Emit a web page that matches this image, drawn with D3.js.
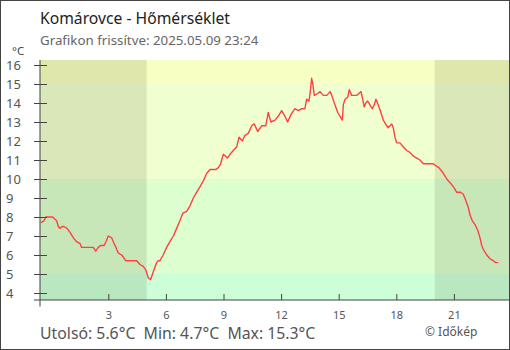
<!DOCTYPE html>
<html>
<head>
<meta charset="utf-8">
<script src="https://cdn.jsdelivr.net/npm/d3@7"></script>
<style>
  html, body { margin: 0; padding: 0; background: #fff; }
  svg { display: block; font-family: "Noto Sans", "Open Sans", sans-serif; }
</style>
</head>
<body>
<svg id="chart" width="510" height="350"></svg>
<script>
// Hourly position of each reading (hours from local midnight; negatives = previous evening)
const hours = [
  -0.51, -0.35, -0.25, 0.10, 0.31, 0.40, 0.48, 0.60, 0.69, 0.85,
  1.00, 1.18, 1.35, 1.53, 1.61, 1.88, 2.22, 2.34, 2.48, 2.60,
  2.78, 2.88, 3.00, 3.18, 3.26, 3.40, 3.52, 3.70, 3.91, 4.13,
  4.48, 4.65, 4.82, 4.96, 5.08, 5.20, 5.34, 5.52, 5.60, 5.69,
  5.86, 6.04, 6.21, 6.39, 6.56, 6.73, 6.88, 7.08, 7.26, 7.43,
  7.60, 7.78, 7.95, 8.13, 8.30, 8.61, 8.73, 8.85, 8.99, 9.20,
  9.34, 9.51, 9.69, 9.81, 9.98, 10.12, 10.29, 10.47, 10.60, 10.78,
  10.99, 11.20, 11.33, 11.47, 11.68, 11.85, 12.03, 12.20, 12.34, 12.52,
  12.72, 12.90, 13.07, 13.24, 13.33, 13.45, 13.51, 13.59, 13.65, 13.73,
  13.91, 14.03, 14.20, 14.38, 14.55, 14.64, 14.77, 14.95, 15.07, 15.19,
  15.24, 15.33, 15.47, 15.55, 15.68, 15.94, 16.16, 16.23, 16.33, 16.41,
  16.51, 16.63, 16.75, 16.85, 16.94, 17.06, 17.20, 17.32, 17.50, 17.58,
  17.76, 17.84, 17.93, 18.02, 18.19, 18.36, 18.54, 18.71, 18.89, 19.06,
  19.23, 19.41, 19.58, 19.67, 19.93, 20.05, 20.22, 20.45, 20.63, 20.80,
  20.97, 21.15, 21.35, 21.49, 21.61, 21.75, 21.84, 21.96, 22.10, 22.24,
  22.36, 22.45, 22.53, 22.71, 22.88, 23.05, 23.18, 23.31
];
// Temperature readings (°C)
const temps = [
  7.7, 7.8, 8.0, 8.0, 7.8, 7.5, 7.4, 7.5, 7.5, 7.4,
  7.2, 6.9, 6.7, 6.6, 6.4, 6.4, 6.4, 6.2, 6.4, 6.5,
  6.5, 6.7, 7.0, 6.9, 6.7, 6.4, 6.1, 6.0, 5.7, 5.7,
  5.7, 5.5, 5.4, 5.2, 4.8, 4.7, 5.1, 5.6, 5.7, 5.7,
  6.0, 6.4, 6.7, 7.0, 7.4, 7.8, 8.2, 8.3, 8.6, 9.0,
  9.3, 9.6, 9.9, 10.3, 10.5, 10.5, 10.6, 10.8, 11.3, 11.1,
  11.3, 11.5, 11.7, 12.2, 12.0, 12.3, 12.4, 12.8, 12.9, 12.5,
  12.8, 12.8, 13.5, 13.0, 13.1, 13.3, 13.6, 13.3, 13.0, 13.4,
  13.7, 13.6, 13.7, 13.7, 14.2, 14.1, 14.5, 15.3, 15.0, 14.4,
  14.5, 14.6, 14.4, 14.4, 14.6, 14.4, 14.0, 13.5, 13.3, 13.1,
  13.9, 14.2, 14.3, 14.7, 14.4, 14.4, 14.6, 14.3, 13.8, 14.0,
  14.1, 13.9, 13.7, 13.9, 14.2, 13.9, 13.5, 13.1, 12.8, 12.7,
  12.9, 12.7, 12.2, 11.9, 11.9, 11.7, 11.5, 11.4, 11.2, 11.1,
  11.0, 10.8, 10.8, 10.8, 10.8, 10.7, 10.6, 10.3, 10.0, 9.8,
  9.6, 9.3, 9.3, 9.2, 8.9, 8.5, 8.1, 7.8, 7.6, 7.3,
  6.9, 6.5, 6.3, 6.0, 5.8, 5.7, 5.6, 5.6
];
// Axis ticks
const yTicks = [4, 5, 6, 7, 8, 9, 10, 11, 12, 13, 14, 15, 16];
const xTicks = [3, 6, 9, 12, 15, 18, 21];
// Temperature band limits and daylight hours
const bandLimits = [3.6, 5, 10, 15, 16.3];
const daylight = [5, 20];

const title = "Komárovce - Hőmérséklet";
const subtitle = "Grafikon frissítve: 2025.05.09 23:24";
const last = temps[temps.length - 1];
const minT = d3.min(temps), maxT = d3.max(temps);

const bandColors = ["#ccffd8", "#ddffd0", "#f0ffd0", "#f8ffc2"];

const svg = d3.select("#chart");
const plot = { left: 40, right: 509, top: 60, bottom: 300 };

const x = d3.scaleLinear().domain([0, 24]).range([50.7, 511.5]);
const y = d3.scaleLinear().domain([4, 16]).range([293, 65]);
const yClamp = v => Math.max(plot.top, Math.min(plot.bottom, y(v)));

svg.append("clipPath").attr("id", "plotclip")
  .append("rect")
  .attr("x", plot.left).attr("y", plot.top)
  .attr("width", plot.right - plot.left).attr("height", plot.bottom - plot.top);

const bg = svg.append("g").attr("clip-path", "url(#plotclip)");

// temperature bands
bg.selectAll("rect.band")
  .data(d3.range(bandLimits.length - 1))
  .join("rect")
  .attr("class", "band")
  .attr("x", plot.left)
  .attr("width", plot.right - plot.left)
  .attr("y", i => i === bandLimits.length - 2 ? plot.top : yClamp(bandLimits[i + 1]))
  .attr("height", i => (i === 0 ? plot.bottom : yClamp(bandLimits[i])) -
                       (i === bandLimits.length - 2 ? plot.top : yClamp(bandLimits[i + 1])))
  .attr("fill", i => bandColors[i]);

// night shading
const nights = [[x.domain()[0] - 2, daylight[0]], [daylight[1], x.domain()[1] + 2]];
bg.selectAll("rect.night")
  .data(nights)
  .join("rect")
  .attr("class", "night")
  .attr("x", d => Math.max(plot.left, x(d[0])))
  .attr("width", d => Math.min(plot.right, x(d[1])) - Math.max(plot.left, x(d[0])))
  .attr("y", plot.top)
  .attr("height", plot.bottom - plot.top)
  .attr("fill", "rgba(40,40,0,0.11)");

// temperature line
const line = d3.line().x((d, i) => x(hours[i])).y(d => y(d));
bg.append("path")
  .datum(temps)
  .attr("d", line)
  .attr("fill", "none")
  .attr("stroke", "#ff4040")
  .attr("stroke-width", 1.4)
  .attr("stroke-linejoin", "round");

// y axis
const yAxis = svg.append("g")
  .attr("transform", `translate(${plot.left},0)`)
  .call(d3.axisLeft(y).tickValues(yTicks).tickSize(6).tickFormat(d3.format("d")));
yAxis.select(".domain").remove();
yAxis.selectAll(".tick line").attr("x1", -6).attr("x2", 7).attr("stroke", "#444");
yAxis.selectAll(".tick text")
  .attr("x", 6 - plot.left).attr("text-anchor", "start")
  .attr("dy", "0.35em")
  .attr("font-size", 13).attr("fill", "#555")
  .style("font-family", "Noto Sans, sans-serif");
yAxis.append("line")
  .attr("x1", 0).attr("x2", 0)
  .attr("y1", plot.top).attr("y2", 306.5)
  .attr("stroke", "#444");

// x axis
const xAxis = svg.append("g")
  .attr("transform", `translate(0,${plot.bottom})`)
  .call(d3.axisBottom(x).tickValues(xTicks).tickSizeInner(-6).tickSizeOuter(0).tickPadding(11));
xAxis.select(".domain").remove();
xAxis.selectAll(".tick line").attr("stroke", "#444");
xAxis.selectAll(".tick text")
  .attr("font-size", 11).attr("fill", "#555")
  .style("font-family", "Noto Sans, sans-serif");
xAxis.append("line")
  .attr("x1", 34).attr("x2", plot.right)
  .attr("y1", 0).attr("y2", 0)
  .attr("stroke", "#444");

// unit
svg.append("text").attr("x", 12).attr("y", 55)
  .attr("font-size", 11.5).attr("fill", "#444").text("°C");

// titles
svg.append("text").attr("x", 40).attr("y", 24)
  .attr("font-size", 15.7).attr("fill", "#222").text(title);
svg.append("text").attr("x", 40).attr("y", 45)
  .attr("font-size", 13.3).attr("fill", "#666").text(subtitle);

// summary line
const f1 = d3.format(".1f");
svg.append("text").attr("x", 40).attr("y", 339)
  .attr("font-size", 15.8).attr("fill", "#555")
  .attr("xml:space", "preserve")
  .text(`Utolsó: ${f1(last)}°C  Min: ${f1(minT)}°C  Max: ${f1(maxT)}°C`);
svg.append("text").attr("x", 425).attr("y", 335.5)
  .attr("font-size", 12).attr("fill", "#555").text("© Időkép");

// frame
svg.append("rect").attr("x", 0.5).attr("y", 0.5)
  .attr("width", 509).attr("height", 349)
  .attr("fill", "none").attr("stroke", "#444");
</script>
</body>
</html>
